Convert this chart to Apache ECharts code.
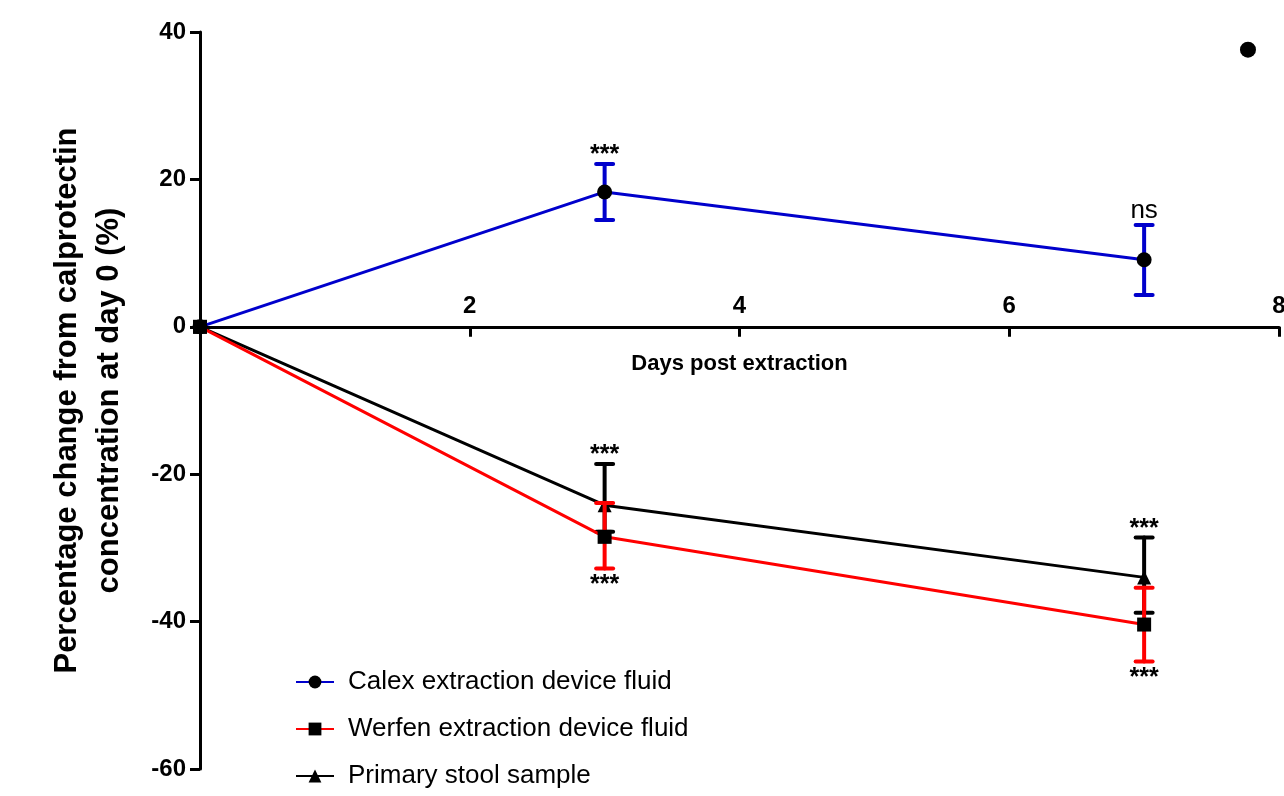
<!DOCTYPE html>
<html>
<head>
<meta charset="utf-8">
<script src="https://cdn.jsdelivr.net/npm/echarts@6/dist/echarts.min.js"></script>
<style>
html,body{margin:0;padding:0;background:#fff;}
#chart{width:1284px;height:796px;}
</style>
</head>
<body>
<div id="chart"></div>
<script>
// ---- data ----
var days = [0, 3, 7];
var calexMean = [0, 18.3, 9.1];
var calexLow  = [0, 14.5, 4.3];
var calexHigh = [0, 22.1, 13.8];
var werfenMean = [0, -28.5, -40.4];
var werfenLow  = [0, -32.8, -45.4];
var werfenHigh = [0, -23.9, -35.4];
var stoolMean = [0, -24.2, -34.0];
var stoolLow  = [0, -27.8, -38.8];
var stoolHigh = [0, -18.6, -28.6];
var outlierPoint = [7.77, 37.6];
var xTicks = [0, 2, 4, 6, 8];
var yTicks = [-60, -40, -20, 0, 20, 40];
var seriesNames = ['Calex extraction device fluid', 'Werfen extraction device fluid', 'Primary stool sample'];
// annotation: day, anchor value (end of error bar), text, side
var annDays  = [3, 7, 3, 3, 7, 7];
var annVals  = [22.1, 13.8, -18.6, -32.8, -28.6, -45.4];
var annTexts = ['***', 'ns', '***', '***', '***', '***'];
var annSides = ['above', 'above', 'above', 'below', 'above', 'below'];

var FONT = '"Liberation Sans", Arial, Helvetica, sans-serif';

var GRID = { left: 200, right: 5, top: 32, bottom: 27 };
var CH = 796;
var yMin = yTicks[0], yMax = yTicks[yTicks.length - 1];
var gridH = CH - GRID.top - GRID.bottom;
// move x axis line to y = 0 (distance from bottom of grid)
var xAxisOffset = -gridH * (0 - yMin) / (yMax - yMin);

function zip3(a, b, c) { return a.map(function (v, i) { return [v, b[i], c[i]]; }); }
function zip2(a, b) { return a.map(function (v, i) { return [v, b[i]]; }); }

function errRender(color, lw, capW) {
  return function (params, api) {
    var x = api.value(0), lo = api.value(1), hi = api.value(2);
    if (lo === hi) return null;
    var pLo = api.coord([x, lo]), pHi = api.coord([x, hi]);
    var h = capW / 2;
    var st = { stroke: color, lineWidth: lw, lineCap: 'round' };
    return {
      type: 'group',
      children: [
        { type: 'line', shape: { x1: pLo[0], y1: pLo[1], x2: pHi[0], y2: pHi[1] }, style: st },
        { type: 'line', shape: { x1: pLo[0] - h, y1: pLo[1], x2: pLo[0] + h, y2: pLo[1] }, style: st },
        { type: 'line', shape: { x1: pHi[0] - h, y1: pHi[1], x2: pHi[0] + h, y2: pHi[1] }, style: st }
      ]
    };
  };
}

var annData = annDays.map(function (d, i) { return [d, annVals[i], i]; });

var option = {
  animation: false,
  backgroundColor: '#ffffff',
  grid: { left: GRID.left, right: GRID.right, top: GRID.top, bottom: GRID.bottom, containLabel: false, outerBoundsMode: 'none' },
  legend: {
    orient: 'vertical',
    left: 290,
    top: 664,
    itemWidth: 38,
    itemHeight: 16,
    itemGap: 21,
    data: seriesNames,
    textStyle: { fontFamily: FONT, fontSize: 26, color: '#000', padding: [0, 0, 0, 9] }
  },
  xAxis: {
    type: 'value',
    min: 0, max: 8, interval: 2,
    offset: xAxisOffset,
    name: 'Days post extraction',
    nameLocation: 'middle',
    nameGap: 26,
    nameTextStyle: { fontFamily: FONT, fontSize: 22, fontWeight: 'bold', color: '#000' },
    axisLine: { onZero: false, lineStyle: { color: '#000', width: 3 } },
    axisTick: { show: true, inside: false, length: 10, lineStyle: { color: '#000', width: 3 } },
    axisLabel: {
      inside: true, margin: 8,
      fontFamily: FONT, fontSize: 24, fontWeight: 'bold', color: '#000',
      formatter: function (v) { return v === 0 ? '' : String(v); }
    },
    splitLine: { show: false }
  },
  yAxis: {
    type: 'value',
    min: yMin, max: yMax, interval: 20,
    name: 'Percentage change from calprotectin\nconcentration at day 0 (%)',
    nameLocation: 'middle',
    nameGap: 70,
    nameRotate: 90,
    nameTextStyle: { fontFamily: FONT, fontSize: 31, fontWeight: 'bold', color: '#000', lineHeight: 42, align: 'center' },
    axisLine: { show: true, onZero: false, lineStyle: { color: '#000', width: 3 } },
    axisTick: { show: true, inside: false, length: 10, lineStyle: { color: '#000', width: 3 } },
    axisLabel: { margin: 14, fontFamily: FONT, fontSize: 24, fontWeight: 'bold', color: '#000' },
    splitLine: { show: false }
  },
  series: [
    {
      name: seriesNames[2], type: 'line', z: 3,
      data: zip2(days, stoolMean),
      symbol: 'triangle', symbolSize: 14,
      lineStyle: { color: '#000', width: 3 },
      itemStyle: { color: '#000' }
    },
    {
      type: 'custom', z: 2, silent: true,
      renderItem: errRender('#000', 4, 17),
      data: zip3(days, stoolLow, stoolHigh)
    },
    {
      type: 'custom', z: 4, silent: true,
      renderItem: errRender('#ff0000', 4, 17),
      data: zip3(days, werfenLow, werfenHigh)
    },
    {
      name: seriesNames[1], type: 'line', z: 5,
      data: zip2(days, werfenMean),
      symbol: 'rect', symbolSize: 14,
      lineStyle: { color: '#ff0000', width: 3 },
      itemStyle: { color: '#000' }
    },
    {
      type: 'custom', z: 4, silent: true,
      renderItem: errRender('#0000cc', 4, 17),
      data: zip3(days, calexLow, calexHigh)
    },
    {
      name: seriesNames[0], type: 'line', z: 6,
      data: zip2(days, calexMean),
      symbol: 'circle', symbolSize: 15,
      lineStyle: { color: '#0000cc', width: 3 },
      itemStyle: { color: '#000' }
    },
    {
      type: 'scatter', z: 6, silent: true,
      data: [outlierPoint],
      symbol: 'circle', symbolSize: 16,
      itemStyle: { color: '#000', opacity: 1 }
    },
    {
      type: 'custom', z: 7, silent: true,
      data: annData,
      renderItem: function (params, api) {
        var i = api.value(2);
        var p = api.coord([api.value(0), api.value(1)]);
        var above = annSides[i] === 'above';
        var isStar = annTexts[i] === '***';
        var dy = above ? (isStar ? 4 : -1) : 4;
        return {
          type: 'text',
          x: p[0], y: p[1] + dy,
          style: {
            text: annTexts[i],
            fontFamily: FONT, fontSize: isStar ? 25 : 26, fontWeight: isStar ? 'bold' : 'normal', fill: '#000',
            align: 'center', verticalAlign: above ? 'bottom' : 'top'
          }
        };
      }
    }
  ]
};

var chart = echarts.init(document.getElementById('chart'), null, { renderer: 'canvas' });
chart.setOption(option);
</script>
</body>
</html>
